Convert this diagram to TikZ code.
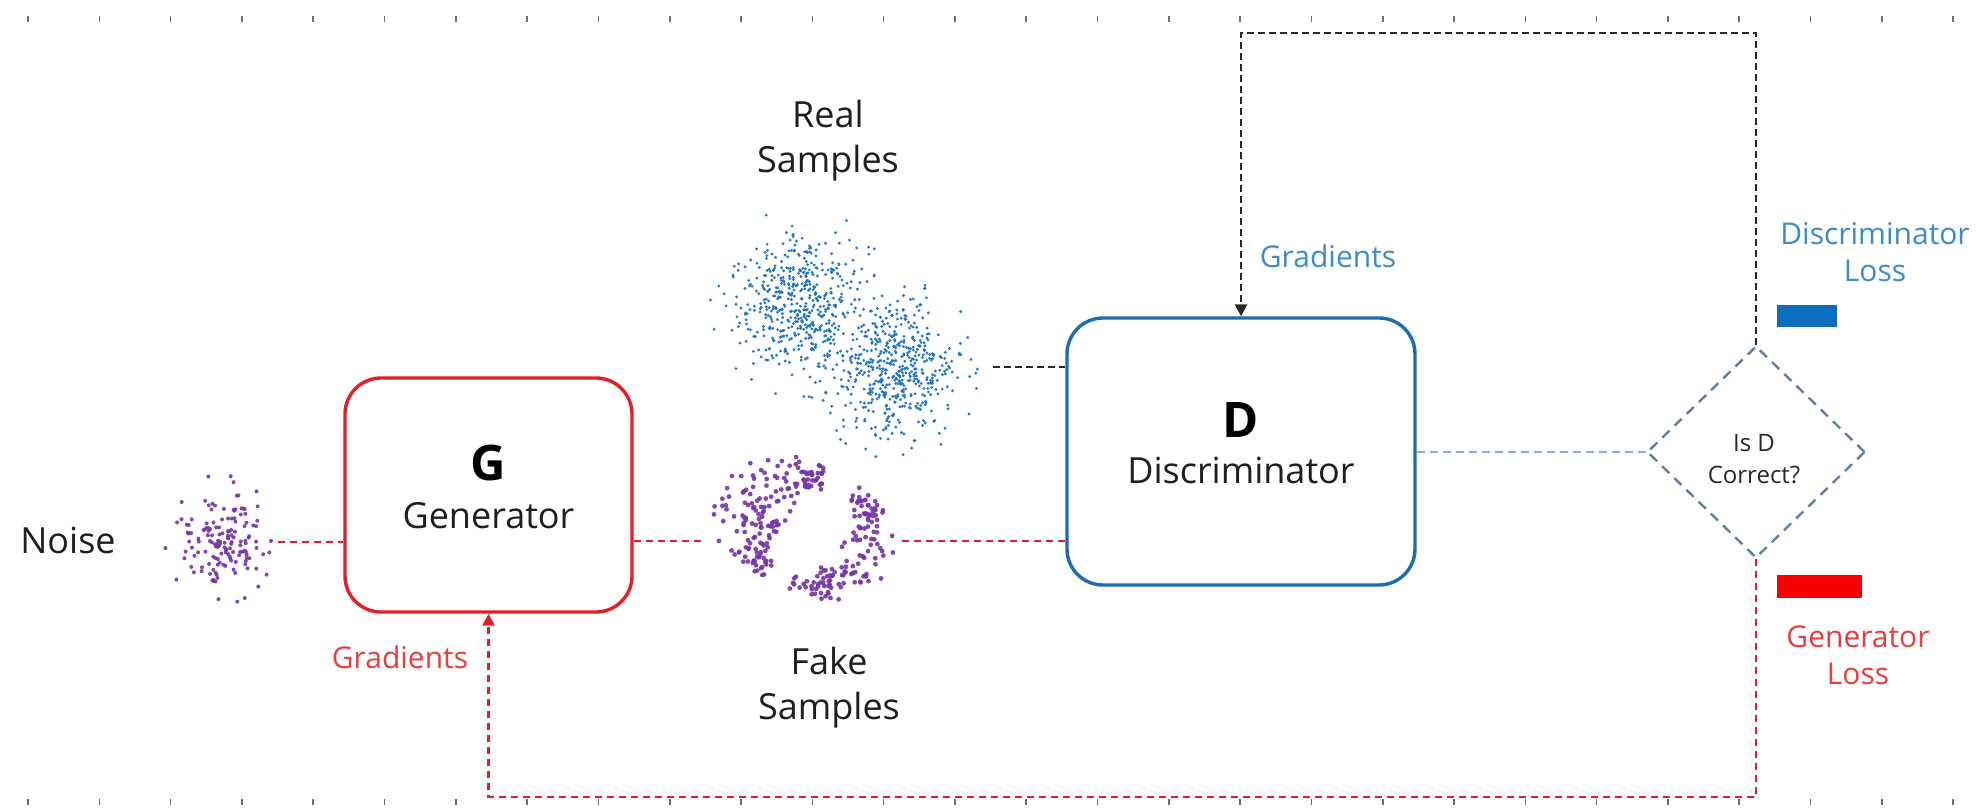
\documentclass[tikz,border=0pt]{standalone}
\usepackage{fontspec}
\setmainfont{Open Sans}
\usetikzlibrary{shapes.geometric,arrows.meta}

\definecolor{gred}{RGB}{228,30,38}
\definecolor{gredtext}{RGB}{232,62,62}
\definecolor{barred}{RGB}{250,0,0}
\definecolor{dblue}{RGB}{30,108,180}
\definecolor{dbluetext}{RGB}{60,140,205}
\definecolor{barblue}{RGB}{12,110,189}
\definecolor{linkblue}{RGB}{140,176,212}
\definecolor{checkblue}{RGB}{100,128,160}
\definecolor{inkgray}{RGB}{40,40,40}
\definecolor{realpt}{RGB}{30,115,195}
\definecolor{fakept}{RGB}{118,52,168}
\definecolor{tickgray}{RGB}{110,110,110}

\tikzset{
  netbox/.style={draw, rounded corners=18pt, line width=1.7pt, fill=white, inner sep=0pt},
  genbox/.style={netbox, draw=gred, minimum width=143.5pt, minimum height=117pt},
  discbox/.style={netbox, draw=dblue, minimum width=174pt, minimum height=133.5pt},
  check/.style={diamond, draw=checkblue, dash pattern=on 5pt off 3.5pt, line width=1.2pt,
    minimum width=109pt, minimum height=106pt, inner sep=0pt},
  checktext/.style={inner sep=0pt, align=center, font=\fontsize{12}{16}\selectfont, text=inkgray},
  cloud/.style={inner sep=0pt, outer sep=0pt},
  bigletter/.style={font=\fontsize{24.5}{28}\selectfont\bfseries, text=black, inner sep=0pt, anchor=base},
  netname/.style={font=\fontsize{18}{22.5}\selectfont, text=black!88, inner sep=0pt, anchor=base},
  caption/.style={font=\fontsize{18}{22.5}\selectfont, text=black!88, inner sep=0pt, align=center},
  losslbl/.style={font=\fontsize{15}{18.5}\selectfont, inner sep=0pt, align=center},
  gradlbl/.style={font=\fontsize{15}{18.5}\selectfont, inner sep=0pt, anchor=base},
  lossbar/.style={inner sep=0pt, outer sep=0pt},
  inkdash/.style={draw=inkgray, line width=1.3pt, dash pattern=on 3.5pt off 2pt},
  reddash/.style={draw=gred, line width=1.2pt, dash pattern=on 3.5pt off 2.5pt},
  bluedash/.style={draw=linkblue, line width=1pt, dash pattern=on 4pt off 2.5pt},
  tip/.style={-{Triangle[length=6pt,width=6pt]}},
}

\begin{document}
\begin{tikzpicture}[x=0.5pt,y=-0.5pt]
  \useasboundingbox (0,0) rectangle (1988,809);
  \fill[white] (0,0) rectangle (1988,809);

  % dotted slide border
  \foreach \i in {0,...,27}{
    \draw[tickgray, line width=0.8pt] ({28+71.3*\i},16) -- ({28+71.3*\i},22);
    \draw[tickgray, line width=0.8pt] ({28+71.3*\i},799) -- ({28+71.3*\i},805);
  }

  \pgfmathsetseed{2718}

  % noise samples
  \foreach \k in {1,...,150}{
    \pgfmathsetmacro\rr{min(2.5,sqrt(-2*ln(0.001+0.998*rnd)))}
    \pgfmathsetmacro\aa{360*rnd}
    \fill[fakept, opacity=0.9] ({220+22*\rr*cos(\aa)},{540+26*\rr*sin(\aa)}) circle (1pt);
  }

  % real samples: two gaussian blobs
  \foreach \cx/\cy/\sx/\sy in {800/302/32/34, 894/369/31/32}{
    \foreach \k in {1,...,520}{
      \pgfmathsetmacro\rr{min(2.8,sqrt(-2*ln(0.001+0.998*rnd)))}
      \pgfmathsetmacro\aa{360*rnd}
      \fill[realpt, opacity=0.95] ({\cx+\sx*\rr*cos(\aa)},{\cy+\sy*\rr*sin(\aa)}) circle (0.8pt);
    }
  }

  % fake samples: two crescents of a broken ring
  \foreach \k in {1,...,175}{
    \pgfmathsetmacro\u{rnd}
    \pgfmathsetmacro\ang{75+155*\u}
    \pgfmathsetmacro\off{(5+13*sin(180*\u))*min(2.0,sqrt(-2*ln(0.001+0.998*rnd)))*cos(360*rnd)}
    \fill[fakept, opacity=0.9] ({808+(62+\off)*cos(\ang)},{530-(52+\off)*sin(\ang)}) circle (1.2pt);
  }
  \foreach \k in {1,...,135}{
    \pgfmathsetmacro\u{rnd}
    \pgfmathsetmacro\ang{-105+150*\u}
    \pgfmathsetmacro\off{(4+9*sin(180*\u))*min(2.0,sqrt(-2*ln(0.001+0.998*rnd)))*cos(360*rnd)}
    \fill[fakept, opacity=0.9] ({808+(66+\off)*cos(\ang)},{530-(55+\off)*sin(\ang)}) circle (1.2pt);
  }

  % sample clouds as anchors for the links
  \node[cloud, minimum width=57pt, minimum height=62pt] (noise) at (221,542) {};
  \node[cloud, minimum width=100pt, minimum height=70pt] (fake) at (802,541) {};
  \node[cloud, minimum width=137pt, minimum height=125pt] (real) at (856,330) {};

  % networks
  \node[genbox] (G) at (488.5,495) {};
  \node[bigletter] (Gletter) at (488.5,480) {G};
  \node[netname] (Gname) at (488.5,528) {Generator};

  \node[discbox] (D) at (1241,451.5) {};
  \node[bigletter] (Dletter) at (1241,437) {D};
  \node[netname] (Dname) at (1241,483) {Discriminator};

  \node[check] (check) at (1756,452) {};
  \node[checktext] (checklbl) at (1754,459) {Is D\\Correct?};

  % texts
  \node[caption, anchor=base] (noiselbl) at (68,553) {Noise};
  \node[caption] (reallbl) at (828,141) {Real\\Samples};
  \node[caption] (fakelbl) at (829,688) {Fake\\Samples};
  \node[gradlbl, text=dbluetext] (dgrad) at (1328,267) {Gradients};
  \node[gradlbl, text=gredtext] (ggrad) at (400,668) {Gradients};
  \node[losslbl, text=dbluetext] (dloss) at (1875,252) {Discriminator\\Loss};
  \node[losslbl, text=gredtext] (gloss) at (1858,655.5) {Generator\\Loss};

  % loss bars
  \node[lossbar, fill=barblue, minimum width=30pt, minimum height=11pt] (dbar) at (1807,316) {};
  \node[lossbar, fill=barred, minimum width=42.5pt, minimum height=11.5pt] (gbar) at (1819.5,586.5) {};

  % forward links
  \coordinate (realout) at (993,367);
  \draw[inkdash] (realout) -- (realout -| D.west);
  \draw[reddash] (noise.east) -- (noise.east -| G.west);
  \draw[reddash] (fake.west -| G.east) -- (fake.west);
  \draw[reddash] (fake.east) -- (fake.east -| D.west);
  \draw[bluedash] (check.west -| D.east) -- (check.west);

  % feedback loops
  \coordinate (loopTop) at (1241,33);
  \coordinate (loopBot) at (488.5,797);
  \draw[inkdash, tip] (check.north) -- (check.north |- loopTop) -- (loopTop) -- (D.north);
  \draw[reddash, tip] (check.south) -- (check.south |- loopBot) -- (loopBot) -- (G.south);
\end{tikzpicture}
\end{document}
